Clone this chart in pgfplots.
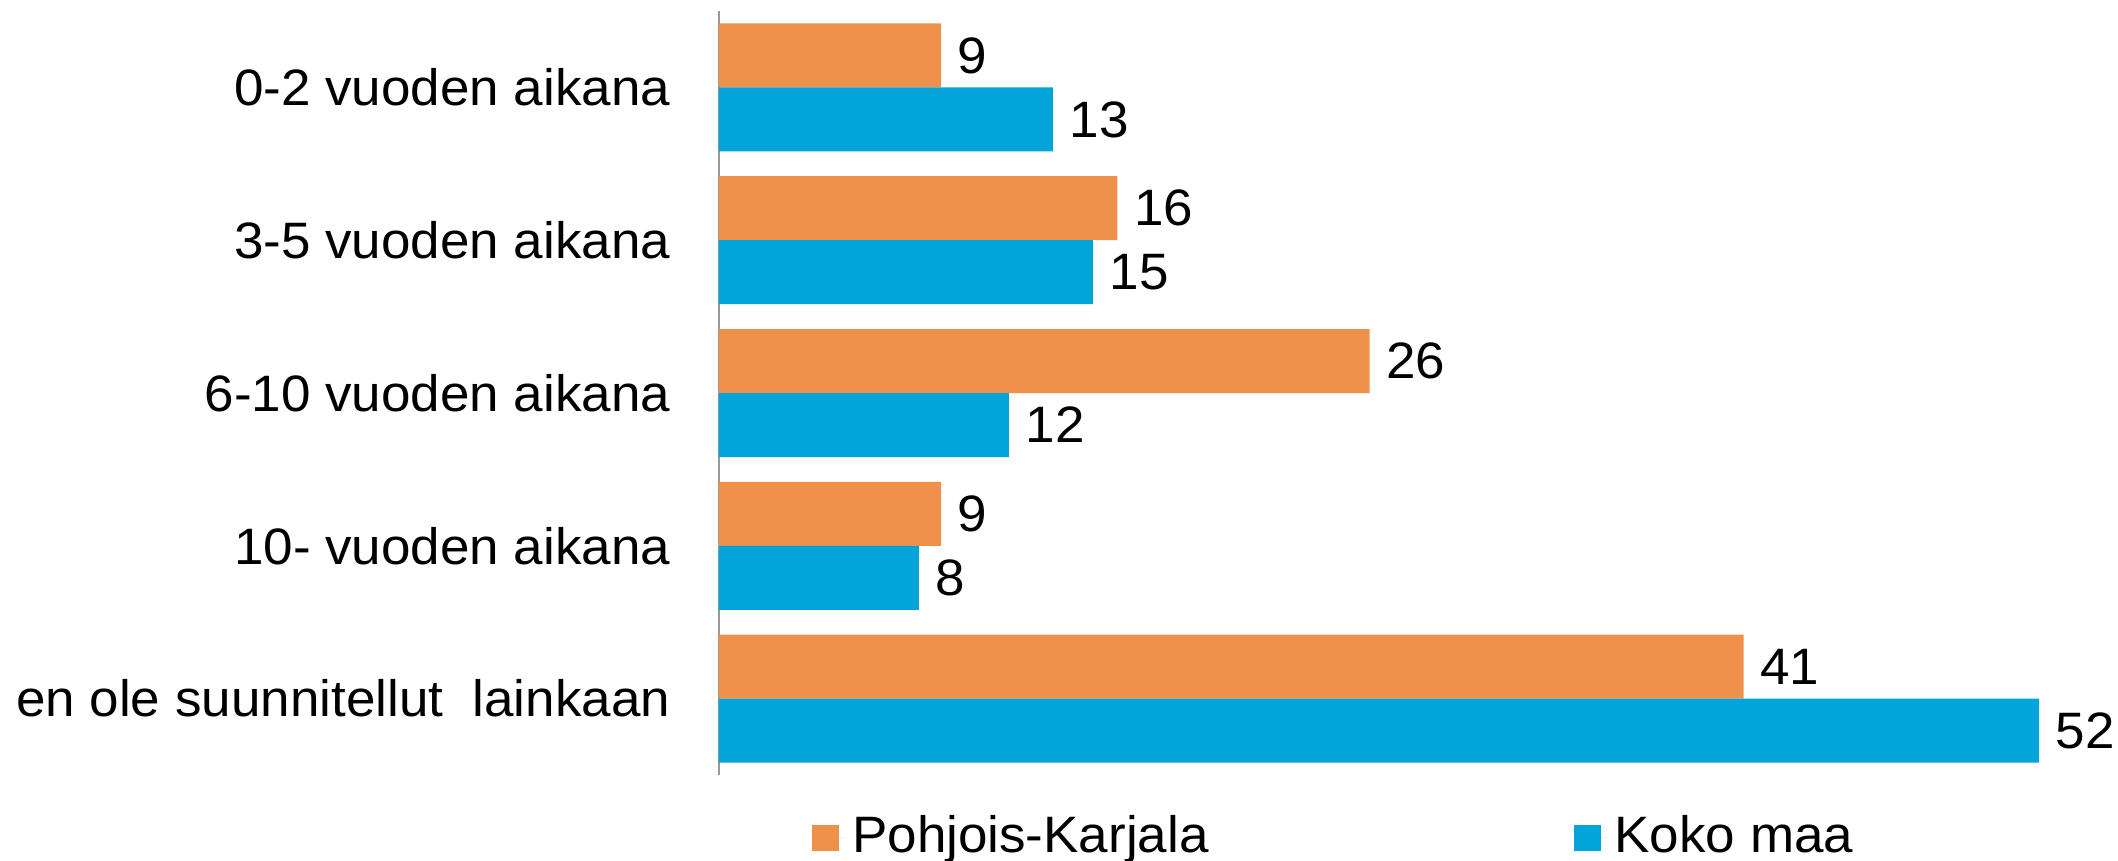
\documentclass[border=0pt]{standalone}
\usepackage{pgfplots}
\pgfplotsset{compat=1.18}
\usepackage{fontspec}
\setmainfont[FakeStretch=1.035]{Liberation Sans}
\definecolor{pkorange}{RGB}{240,145,75}
\definecolor{kmblue}{RGB}{2,164,217}
\begin{document}
\begin{tikzpicture}
\begin{axis}[
  xbar,
  scale only axis,
  width=330pt, height=191pt,
  xmin=0, xmax=52.49, ymin=-0.5, ymax=4.5,
  bar width=16pt,
  axis x line=none,
  axis y line*=left,
  y axis line style={draw=gray!80, line width=0.4pt, -},
  ytick={0,1,2,3,4},
  yticklabels={en ole suunnitellut\ \ lainkaan, 10- vuoden aikana, 6-10 vuoden aikana, 3-5 vuoden aikana, 0-2 vuoden aikana},
  major tick length=0pt,
  yticklabel style={font=\fontsize{12.8}{15}\selectfont, inner sep=0pt, xshift=-12pt},
  nodes near coords,
  nodes near coords style={font=\fontsize{12.8}{15}\selectfont, anchor=west, inner sep=0pt, xshift=4pt, text=black,
    /pgf/number format/.cd, fixed, precision=0},
  /pgf/number format/assume math mode=true,
  legend columns=2,
  legend style={at={(0.0697,0)}, anchor=west, yshift=-15.5pt, draw=none, inner sep=0pt,
    font=\fontsize{12.8}{15}\selectfont,
    /tikz/every even column/.append style={column sep=89.4pt}},
  legend cell align=left,
]
\addplot[fill=pkorange, draw=none, bar shift=8pt,
  legend image code/.code={\fill[pkorange] (0pt,-3.6pt) rectangle (6.7pt,3.1pt); \path (0pt,0pt) -- (8.1pt,0pt);}]
  coordinates {(40.74,0) (8.83,1) (25.87,2) (15.84,3) (8.83,4)};
\addplot[fill=kmblue, draw=none, bar shift=-8pt,
  legend image code/.code={\fill[kmblue] (0pt,-3.6pt) rectangle (6.7pt,3.1pt); \path (0pt,0pt) -- (8.1pt,0pt);}]
  coordinates {(52.49,0) (7.95,1) (11.53,2) (14.87,3) (13.28,4)};
\legend{Pohjois-Karjala, Koko maa}
\end{axis}
\pgfresetboundingbox
\path ([shift={(-179.75pt,-21.25pt)}]current axis.south west) rectangle ++(529.5pt,215pt);
\end{tikzpicture}
\end{document}
